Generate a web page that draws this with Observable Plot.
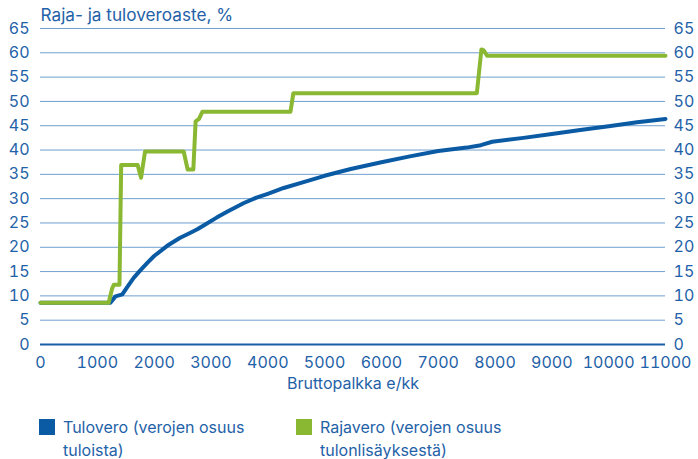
<!DOCTYPE html>
<html><head><meta charset="utf-8">
<script src="https://cdn.jsdelivr.net/npm/d3@7"></script>
<script src="https://cdn.jsdelivr.net/npm/@observablehq/plot@0.6"></script>
<style>
body{margin:0;background:#fff;font-family:Inter,sans-serif;color:#1f62a8;}
#wrap{position:relative;width:698px;height:459px;}
.leg{position:absolute;font-size:16px;line-height:23px;color:#1f62a8;}
.sw{position:absolute;width:16px;height:16px;}
</style></head>
<body><div id="wrap"><div id="chart"></div>
<div class="sw" style="left:39px;top:419px;background:#0b5aa4"></div>
<div class="leg" style="left:63px;top:416px">Tulovero (verojen osuus<br>tuloista)</div>
<div class="sw" style="left:296px;top:419px;background:#8ab833"></div>
<div class="leg" style="left:320px;top:416px">Rajavero (verojen osuus<br>tulonlisäyksestä)</div>
</div>
<script>
const tuloSalary = [0,1230,1320,1440,1520,1640,1760,1880,2000,2230,2450,2640,2760,2900,3100,3300,3580,3800,4000,4280,4600,5000,5460,6000,6500,7000,7500,7750,7950,8500,9000,9500,10000,10500,11000];
const tulovero  = [8.6,8.6,9.9,10.3,11.7,13.7,15.3,16.8,18.2,20.3,21.9,23.0,23.7,24.7,26.1,27.4,29.1,30.2,31.0,32.2,33.3,34.7,36.1,37.5,38.7,39.8,40.5,41.0,41.7,42.5,43.3,44.1,44.9,45.7,46.4];
const rajaSalary = [0,1200,1260,1290,1390,1420,1710,1770,1840,2520,2590,2690,2730,2790,2850,4400,4450,7680,7760,7800,7860,11000];
const rajavero   = [8.6,8.6,11.5,12.3,12.3,36.9,36.9,34.3,39.7,39.7,36.0,36.0,45.9,46.4,47.9,47.9,51.7,51.7,60.7,60.5,59.4,59.4];
const yTicks = [0,5,10,15,20,25,30,35,40,45,50,55,60,65];
const xTicks = [0,1000,2000,3000,4000,5000,6000,7000,8000,9000,10000,11000];
const yTitle = "Raja- ja tuloveroaste, %";
const xTitle = "Bruttopalkka e/kk";

const tuloData = tuloSalary.map((x,i)=>({x, y: tulovero[i]}));
const rajaData = rajaSalary.map((x,i)=>({x, y: rajavero[i]}));
const txt = "#1f62a8";
const chart = Plot.plot({
  width: 698, height: 400,
  marginLeft: 40, marginRight: 33, marginTop: 28, marginBottom: 56,
  x: {domain: [0, 11000]},
  y: {domain: [0, 65]},
  style: {fontFamily: "Inter, sans-serif", fontSize: "16px", color: txt, background: "white"},
  marks: [
    Plot.gridY(yTicks, {stroke: "#6f9fcf", strokeOpacity: 1, strokeWidth: 1}),
    Plot.ruleY([0], {stroke: "#1a5ea6", strokeWidth: 2}),
    Plot.axisY(yTicks, {anchor: "left", tickSize: 0, tickPadding: 11, label: null, fill: txt}),
    Plot.axisY(yTicks, {anchor: "right", tickSize: 0, tickPadding: 8, label: null, fill: txt}),
    Plot.axisX(xTicks, {anchor: "bottom", tickSize: 0, tickPadding: 12, tickFormat: d => String(d), label: null, fill: txt}),
    Plot.line(tuloData, {x: "x", y: "y", stroke: "#0b5aa4", strokeWidth: 4, curve: "linear"}),
    Plot.line(rajaData, {x: "x", y: "y", stroke: "#8ab833", strokeWidth: 4, curve: "linear"}),
    Plot.text([yTitle], {frameAnchor: "top-left", dy: -13, text: d => d, textAnchor: "start", lineAnchor: "middle", fill: txt, fontSize: 17.2}),
    Plot.text([xTitle], {frameAnchor: "bottom", dy: 39, text: d => d, lineAnchor: "middle", fill: txt})
  ]
});
document.getElementById("chart").appendChild(chart);
</script>
</body></html>
